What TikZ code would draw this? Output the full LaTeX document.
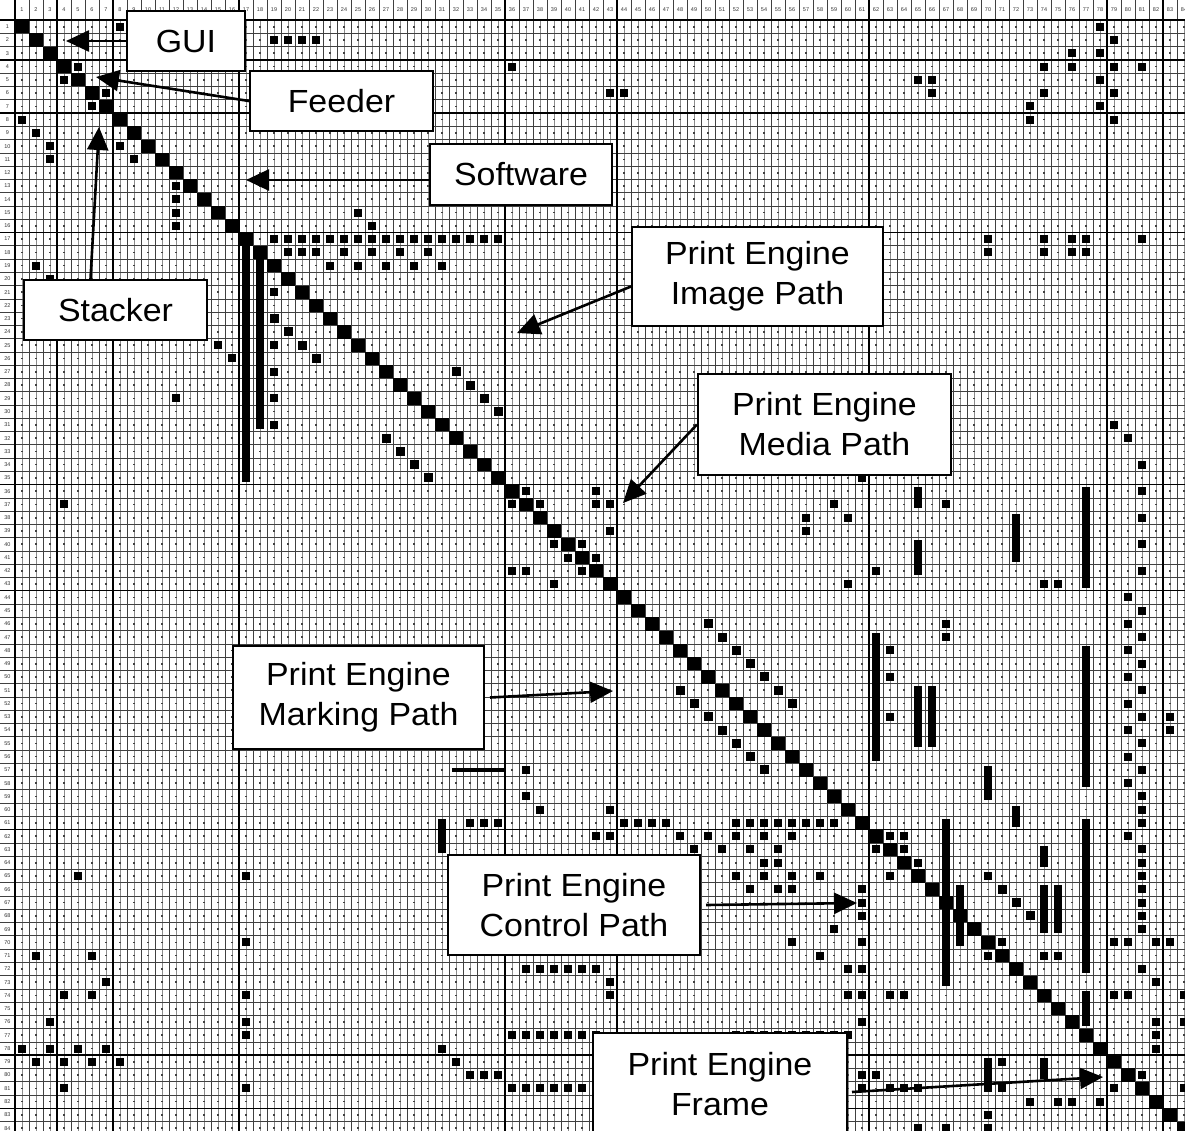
\documentclass[tikz,border=0pt]{standalone}
\usepackage{fontspec}
\setmainfont{Liberation Sans}
\newfontfamily\tagfont[FakeStretch=1.06]{Liberation Sans}
\usetikzlibrary{arrows.meta}
\tikzset{
 gridline/.style={line width=0.55pt,draw=black!75},
 halfline/.style={line width=0.35pt,draw=black!45},
 blockline/.style={line width=1.4pt,draw=black},
 dotrow/.style={line width=1.6pt,draw=black!75,dash pattern=on 1.6pt off 12.4pt,dash phase=7.8pt},
 idx/.style={font=\fontsize{5.5}{6}\selectfont,inner sep=0pt,text=black!80},
 cluster/.style={draw,line width=1.3pt},
 tagbox/.style={rectangle,draw,line width=2pt,fill=white,align=center,inner sep=0pt,font=\tagfont\fontsize{32}{40}\selectfont},
 pointer/.style={-{Triangle[length=23pt,width=21pt]},line width=2.6pt}}

\begin{document}
\begin{tikzpicture}[x=1pt,y=-1pt]
\useasboundingbox (0,0) rectangle (1185,1130);
\clip (0,0) rectangle (1185,1130);
\fill[white] (0,0) rectangle (1185,1130);
% the matrix, one unit = one cell
\begin{scope}[shift={(15pt,-20.1pt)},x=14pt,y=-13.27pt]
\foreach \i in {1,...,84} \draw[halfline] (\i-0.5,0) -- (\i-0.5,85);
\foreach \r in {1,...,84} \draw[dotrow] (0,\r-0.5) -- (84,\r-0.5);
\foreach \i in {0,...,84} {\draw[gridline] (\i,-1.6) -- (\i,85); \draw[gridline] (-1.2,\i) -- (85,\i);}
\foreach \i in {0,3,7,16,35,43,61,78,82} {\draw[blockline] (\i,-1.6) -- (\i,85); \draw[blockline] (-1.2,\i) -- (85,\i);}
\foreach \i in {1,...,84} {\node[idx] (top\i) at (\i-0.5,-0.76) {\i}; \node[idx] (side\i) at (-0.54,\i-0.5) {\i};}
% diagonal
\foreach \i in {1,...,84} \fill (\i-1,\i-1) rectangle (\i,\i);
% single marks
\foreach \c/\r in {8/1,19/2,20/2,21/2,22/2,36/4,43/6,44/6,65/5,66/5,66/6,74/4,74/6,76/3,76/4,73/7,73/8,81/4,
 78/1,79/2,78/3,79/4,78/5,79/6,78/7,79/8,70/17,70/18,74/17,74/18,76/17,76/18,77/17,77/18,81/17,
 5/4,4/5,7/6,6/7,1/8,2/9,3/10,3/11,8/10,9/11,12/13,12/14,12/15,12/16,2/19,3/20,15/25,16/26,4/37,12/29,25/15,26/16,
 20/18,21/18,22/18,24/18,26/18,28/18,30/18,23/19,25/19,27/19,29/19,31/19,19/21,19/25,19/27,19/29,19/31,
 37/36,36/37,38/37,41/40,39/40,40/41,42/41,41/42,42/36,42/37,43/37,43/39,36/42,37/42,39/43,
 61/35,59/37,57/38,57/39,60/38,62/42,60/43,67/37,74/43,75/43,79/31,80/32,81/34,81/36,81/38,81/40,81/42,
 67/46,67/47,37/57,37/59,38/60,43/60,42/62,43/62,83/53,83/54,63/48,63/50,63/53,
 33/61,34/61,35/61,48/62,50/62,52/62,54/62,56/62,49/63,51/63,53/63,55/63,
 54/64,55/64,52/65,54/65,56/65,53/66,55/66,56/66,58/65,61/66,61/67,61/68,59/69,56/70,58/71,61/70,
 43/73,43/74,60/72,61/72,60/74,61/74,63/74,64/74,61/76,31/78,32/79,33/80,34/80,35/80,
 61/80,62/80,61/81,63/81,64/81,65/81,63/62,64/62,62/63,64/63,65/64,63/65,70/70,71/70,70/71,70/65,
 81/60,81/61,80/62,81/63,79/70,80/70,82/70,83/70,81/72,82/73,79/74,80/74,84/74,82/76,82/77,82/78,84/76,
 81/80,79/81,84/81,71/79,71/81,70/83,70/84,65/84,67/84,73/82,75/82,76/82,78/82,
 7/73,4/74,6/74,17/74,3/76,17/76,17/77,1/78,3/78,5/78,7/78,2/79,4/79,6/79,8/79,4/81,17/81,17/65,17/70,5/65,2/71,6/71}
 \fill ([shift={(-4pt,-4pt)}]\c-0.5,\r-0.5) rectangle ++(8pt,8pt);
\foreach \r in {64,...,69} \fill ([shift={(-4pt,-4pt)}]80.5,\r-0.5) rectangle ++(8pt,8pt);
\foreach \r in {44,46,...,58} {\fill ([shift={(-4pt,-4pt)}]79.5,\r-0.5) rectangle ++(8pt,8pt);
 \fill ([shift={(-4pt,-4pt)}]80.5,\r+0.5) rectangle ++(8pt,8pt);}
% rows of marks
\foreach \r/\a/\b in {17/19/35,61/44/47,61/52/59,72/37/42,77/36/42,77/52/60,81/36/42}
 \foreach \c in {\a,...,\b} \fill ([shift={(-4pt,-4pt)}]\c-0.5,\r-0.5) rectangle ++(8pt,8pt);
% vertical bars
\foreach \c/\a/\b in {17/17/35,18/18/31,65/36/37,65/40/42,72/38/41,77/36/43,62/47/56,65/51/55,66/51/55,70/57/59,72/60/61,
 77/48/58,31/61/63,67/61/73,68/66/70,77/61/72,77/74/76,74/63/64,74/66/69,74/71/71,75/66/69,75/71/71,70/79/81,74/79/80}
 \fill ([xshift=-4pt]\c-0.5,\a-0.8) rectangle ([xshift=4pt]\c-0.5,\b-0.2);
\fill ([yshift=2pt]31.2,56.5) rectangle ([yshift=-2pt]35,56.5);
% sub-diagonals
\foreach \c/\r/\n in {19/23/4,32/27/4,27/32/4,50/46/7,48/51/7,71/66/3}
 \foreach \k in {1,...,\n} \fill ([shift={(-4.5pt,-4.5pt)}]\c+\k-1.5,\r+\k-1.5) rectangle ++(9pt,9pt);
% subsystem boxes
\foreach \a/\b in {0/3,3/7,7/16,16/35,35/43,43/61,61/78,78/82} \draw[cluster] (\a,\a) rectangle (\b,\b);
\end{scope}
% names and pointers
\node[tagbox,minimum width=118pt,minimum height=60pt] (gui) at (186,41) {GUI};
\node[tagbox,minimum width=183pt,minimum height=60pt] (feeder) at (341.5,101) {Feeder};
\node[tagbox,minimum width=182pt,minimum height=61pt] (software) at (521,174.5) {Software};
\node[tagbox,minimum width=183pt,minimum height=60pt] (stacker) at (115.5,310) {Stacker};
\node[tagbox,minimum width=251pt,minimum height=99pt] (imagepath) at (757.5,276.5) {Print Engine\\Image Path};
\node[tagbox,minimum width=253pt,minimum height=101pt] (mediapath) at (824.5,424.5) {Print Engine\\Media Path};
\node[tagbox,minimum width=251pt,minimum height=103pt] (markingpath) at (358.5,697.5) {Print Engine\\Marking Path};
\node[tagbox,minimum width=252pt,minimum height=100pt] (controlpath) at (574,905) {Print Engine\\Control Path};
\node[tagbox,minimum width=254pt,minimum height=102pt] (frame) at (720,1084) {Print Engine\\Frame};
\coordinate (guiTip) at (66,41);
\coordinate (feederTip) at (96,77);
\coordinate (softwareTip) at (246,180);
\coordinate (stackerTip) at (99,127);
\coordinate (imageTip) at (517,333);
\coordinate (mediaTip) at (623,503);
\coordinate (markingTip) at (613,691);
\coordinate (controlTip) at (857,903);
\coordinate (frameTip) at (1103,1077);
\draw[pointer] (gui.west) -- (guiTip);
\draw[pointer] (feeder.west) -- (feederTip);
\draw[pointer] ([yshift=-5.5pt]software.west) -- (softwareTip);
\draw[pointer] ([xshift=-25pt]stacker.north) -- (stackerTip);
\draw[pointer] ([yshift=-10pt]imagepath.west) -- (imageTip);
\draw[pointer] (mediapath.west) -- (mediaTip);
\draw[pointer] ([xshift=5pt]markingpath.east) -- (markingTip);
\draw[pointer] ([xshift=5pt]controlpath.east) -- (controlTip);
\draw[pointer] ([xshift=4pt,yshift=-8pt]frame.east) -- (frameTip);
\end{tikzpicture}
\end{document}
